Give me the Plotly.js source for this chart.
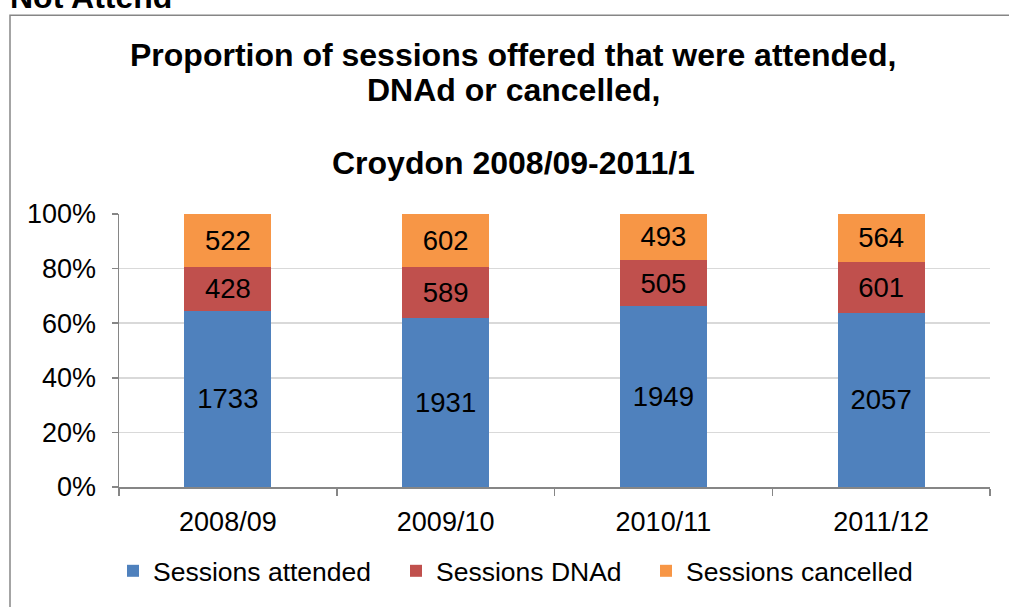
<!DOCTYPE html>
<html>
<head>
<meta charset="utf-8">
<script src="https://cdn.plot.ly/plotly-3.0.1.min.js"></script>
<style>html,body{margin:0;padding:0;background:#fff;}#chart{width:1009px;height:607px;}</style>
</head>
<body>
<div id="chart"></div>
<script>
var categories = ["2008/09", "2009/10", "2010/11", "2011/12"];
var attended = [1733, 1931, 1949, 2057];
var dnad = [428, 589, 505, 601];
var cancelled = [522, 602, 493, 564];
var seriesNames = ["Sessions attended", "Sessions DNAd", "Sessions cancelled"];
var seriesColors = ["#4f81bd", "#c0504d", "#f79646"];
var yTicks = [0, 20, 40, 60, 80, 100];
var titleLines = ["Proportion of sessions offered that were attended,", "DNAd or cancelled,", "Croydon 2008/09-2011/1"];

var FONT = "Liberation Sans, Arial, sans-serif";
var legendIds = ["legend", "legend2", "legend3"];
function mk(vals, i) {
  return {
    type: "bar", x: categories, y: vals, name: seriesNames[i],
    marker: {color: seriesColors[i], line: {width: 0}},
    text: vals.map(String), textposition: "inside", insidetextanchor: "middle",
    textfont: {color: "#000", size: 27.5, family: FONT},
    constraintext: "none", hoverinfo: "skip", legend: legendIds[i]
  };
}
var data = [mk(attended, 0), mk(dnad, 1), mk(cancelled, 2)];

var L = 119, R = 990, T = 214, B = 490, W = 1009, H = 607;
function px(x) { return (x - L) / (R - L); }
function py(y) { return (B - y) / (B - T); }

var titleY = [53, 89, 162];
var annotations = titleLines.map(function (t, i) {
  return {
    text: t, xref: "paper", yref: "paper", x: px(513), y: py(titleY[i]),
    xanchor: "center", yanchor: "middle", showarrow: false,
    font: {family: FONT, size: 32, color: "#000", weight: "bold"}
  };
});
annotations.push({
  text: "Not Attend", xref: "paper", yref: "paper", x: px(8), y: py(15),
  xanchor: "left", yanchor: "bottom", showarrow: false,
  font: {family: FONT, size: 32, color: "#000", weight: "bold"}
});

function leg(xpx) {
  return {
    orientation: "h", x: px(xpx), xanchor: "left", y: py(575), yanchor: "middle",
    font: {size: 26.5, family: FONT}, itemwidth: 30,
    bgcolor: "rgba(0,0,0,0)", borderwidth: 0
  };
}
var legendX = [113, 396, 646];

var layout = {
  width: W, height: H,
  margin: {l: L, r: W - R, t: T, b: H - B, pad: 0},
  paper_bgcolor: "#fff", plot_bgcolor: "#fff",
  font: {family: FONT, color: "#000", size: 26},
  barmode: "stack", barnorm: "percent", bargap: 0.6,
  showlegend: true,
  xaxis: {
    type: "category", showline: true, linecolor: "#868686", linewidth: 1.5,
    ticks: "outside", tickson: "boundaries", ticklen: 7, tickcolor: "#868686", tickwidth: 1.5,
    showgrid: false, tickfont: {size: 27, family: FONT}, ticklabelstandoff: 10, fixedrange: true
  },
  yaxis: {
    range: [0, 100], tickvals: yTicks, ticktext: yTicks.map(function(v){return v + "%";}),
    showline: true, linecolor: "#868686", linewidth: 1.5,
    ticks: "outside", ticklen: 6, tickcolor: "#868686", tickwidth: 1.5,
    showgrid: true, gridcolor: "#d9d9d9", gridwidth: 1.5, zeroline: false,
    tickfont: {size: 27, family: FONT}, ticklabelstandoff: 10, fixedrange: true
  },
  legend: leg(legendX[0]),
  legend2: leg(legendX[1]),
  legend3: leg(legendX[2]),
  shapes: [{
    type: "rect", xref: "paper", yref: "paper",
    x0: px(10), x1: px(1030), y0: py(640), y1: py(13),
    line: {color: "#868686", width: 1.5}, fillcolor: "rgba(0,0,0,0)", layer: "below"
  }],
  annotations: annotations
};

Plotly.newPlot("chart", data, layout, {displayModeBar: false, staticPlot: true});
</script>
</body>
</html>
